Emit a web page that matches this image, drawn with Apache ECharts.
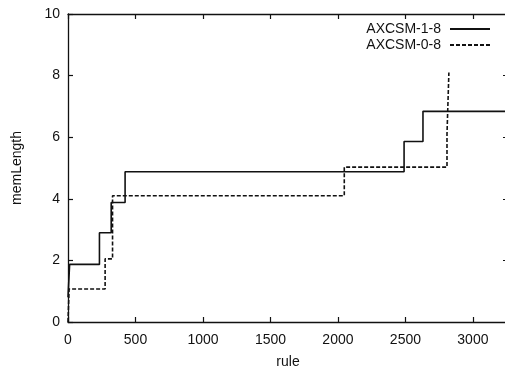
<!DOCTYPE html>
<html>
<head>
<meta charset="utf-8">
<script src="https://cdn.jsdelivr.net/npm/echarts@6/dist/echarts.min.js"></script>
<style>
  html, body { margin: 0; padding: 0; background: #fff; }
  #chart { width: 505px; height: 371px; }
</style>
</head>
<body>
<div id="chart"></div>
<script>
// step points: [rule, memLength] where each level begins
const solidName = 'AXCSM-1-8'
const solidPts = [[0, 0.8], [12, 1.87], [233, 2.9], [320, 3.88], [423, 4.88], [2490, 5.86], [2630, 6.84], [3260, 6.84]]
const dashName = 'AXCSM-0-8'
const dashPts = [[0, 0], [8, 1.07], [275, 2.05], [330, 4.1], [2047, 5.03], [2808, 6.1], [2822, 8.1]]
const xTicks = [0, 500, 1000, 1500, 2000, 2500, 3000]
const yTicks = [0, 2, 4, 6, 8, 10]

const font = 'Liberation Sans, Arial, sans-serif'
const ink = '#111'

const chart = echarts.init(document.getElementById('chart'))

const axisCommon = {
  axisLine: { show: true, onZero: false, lineStyle: { color: ink, width: 1.3 } },
  axisTick: { show: true, inside: true, length: 5, lineStyle: { color: ink, width: 1.2 } },
  splitLine: { show: false }
}

chart.setOption({
  backgroundColor: '#fff',
  animation: false,
  grid: { left: 68, top: 14, width: 440, height: 308, outerBoundsMode: 'none' },
  legend: {
    orient: 'vertical',
    right: 9,
    top: 17,
    align: 'right',
    itemWidth: 40,
    itemHeight: 12,
    itemGap: 2,
    itemStyle: { color: 'transparent', borderWidth: 0 },
    textStyle: { fontFamily: font, fontSize: 14, color: ink, padding: [0, 4, 0, 0] },
    data: [solidName, dashName]
  },
  xAxis: [{
    type: 'value',
    min: 0,
    max: 3260,
    interval: 500,
    name: 'rule',
    nameLocation: 'middle',
    nameGap: 33,
    nameTextStyle: { fontFamily: font, fontSize: 14, color: ink },
    axisLabel: {
      fontFamily: font, fontSize: 14, color: ink, margin: 11,
      showMaxLabel: false,
      formatter: v => xTicks.includes(v) ? String(v) : ''
    },
    ...axisCommon
  }, {
    type: 'value',
    position: 'top',
    min: 0,
    max: 3260,
    interval: 500,
    axisLabel: { show: false },
    ...axisCommon
  }],
  yAxis: [{
    type: 'value',
    min: 0,
    max: 10,
    interval: 2,
    name: 'memLength',
    nameLocation: 'middle',
    nameGap: 44,
    nameTextStyle: { fontFamily: font, fontSize: 14, color: ink },
    axisLabel: {
      fontFamily: font, fontSize: 14, color: ink, margin: 8,
      formatter: v => yTicks.includes(v) ? String(v) : ''
    },
    ...axisCommon
  }, {
    type: 'value',
    position: 'right',
    min: 0,
    max: 10,
    interval: 2,
    axisLabel: { show: false },
    ...axisCommon
  }],
  series: [
    {
      name: solidName,
      type: 'line',
      step: 'end',
      symbol: 'none',
      data: solidPts,
      itemStyle: { color: ink },
      lineStyle: { color: ink, width: 1.6, type: 'solid' }
    },
    {
      name: dashName,
      type: 'line',
      step: 'end',
      symbol: 'none',
      data: dashPts,
      itemStyle: { color: ink },
      lineStyle: { color: ink, width: 1.6, type: [4, 2] }
    }
  ]
})
</script>
</body>
</html>
